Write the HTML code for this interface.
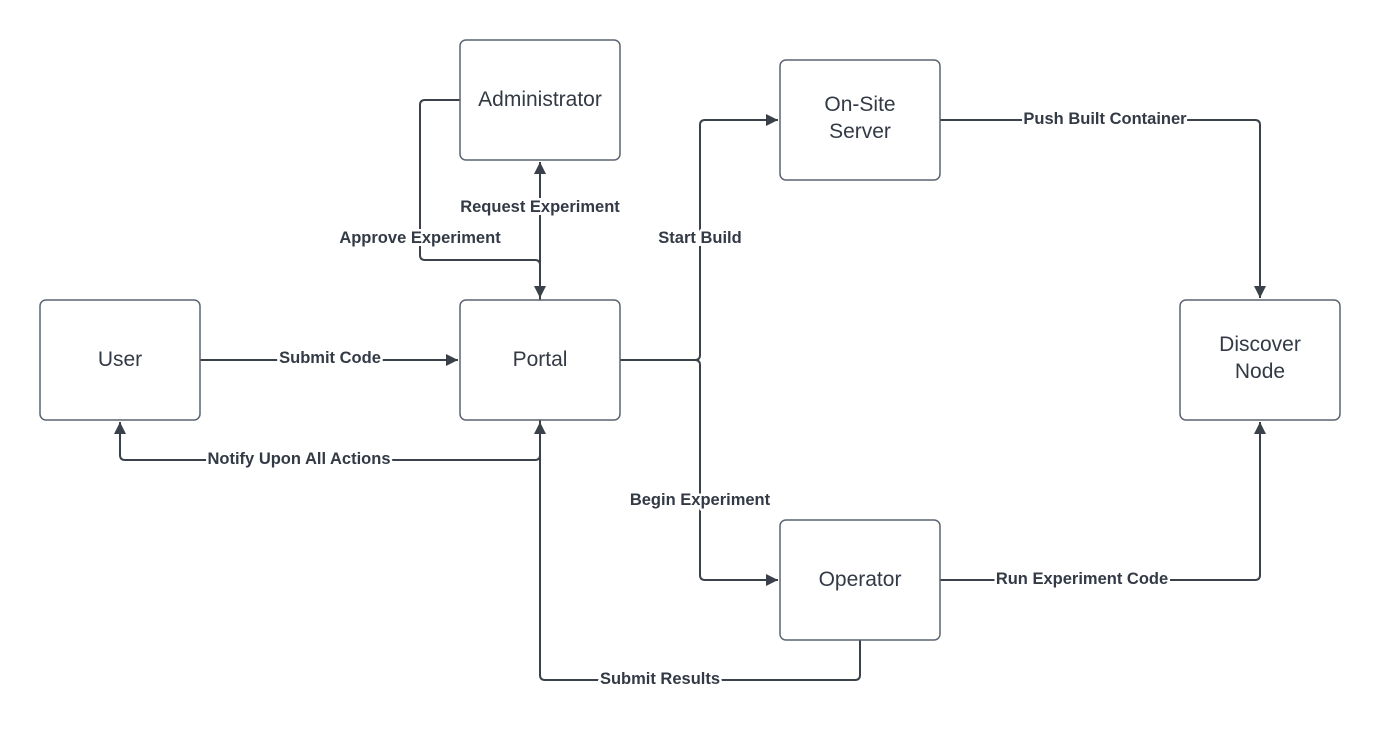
<!DOCTYPE html>
<html><head><style>body{margin:0;background:#fff}svg{display:block}</style></head><body>
<svg width="1380" height="731" xmlns="http://www.w3.org/2000/svg" font-family="Liberation Sans, sans-serif">
<defs><marker id="a" markerWidth="12" markerHeight="12" refX="12" refY="6" orient="auto" markerUnits="userSpaceOnUse"><path d="M0,0 L12,6 L0,12 z" fill="#3a414a"/></marker></defs>
<g fill="none" stroke="#3a414a" stroke-width="2">
<path d="M200,360 H458" marker-end="url(#a)"/>
<path d="M540,300 V162" marker-end="url(#a)"/>
<path d="M540,230 V298" marker-end="url(#a)"/>
<path d="M460,100 H425 Q420,100 420,105 V255 Q420,260 425,260 H535 Q540,260 540,265"/>
<path d="M620,360 H695 Q700,360 700,355 V125 Q700,120 705,120 H778" marker-end="url(#a)"/>
<path d="M695,360 Q700,360 700,365 V575 Q700,580 705,580 H778" marker-end="url(#a)"/>
<path d="M940,120 H1255 Q1260,120 1260,125 V298" marker-end="url(#a)"/>
<path d="M940,580 H1255 Q1260,580 1260,575 V422" marker-end="url(#a)"/>
<path d="M860,640 V675 Q860,680 855,680 H545 Q540,680 540,675 V422" marker-end="url(#a)"/>
<path d="M540,420 V455 Q540,460 535,460 H125 Q120,460 120,455 V422" marker-end="url(#a)"/>
</g>
<g fill="#fff" stroke="#5c6370" stroke-width="1.5">
<rect x="460" y="40" width="160" height="120" rx="6"/>
<rect x="780" y="60" width="160" height="120" rx="6"/>
<rect x="40" y="300" width="160" height="120" rx="6"/>
<rect x="460" y="300" width="160" height="120" rx="6"/>
<rect x="1180" y="300" width="160" height="120" rx="6"/>
<rect x="780" y="520" width="160" height="120" rx="6"/>
</g>
<g font-size="21" fill="#333a45" text-anchor="middle">
<text x="540" y="106">Administrator</text>
<text x="860" y="111">On-Site</text><text x="860" y="138">Server</text>
<text x="120" y="366">User</text>
<text x="540" y="366">Portal</text>
<text x="1260" y="351">Discover</text><text x="1260" y="378">Node</text>
<text x="860" y="586">Operator</text>
</g>
<g fill="#fff">
<rect x="278" y="352" width="104" height="14"/>
<rect x="460" y="201" width="160" height="14"/>
<rect x="340" y="232" width="160" height="14"/>
<rect x="658" y="232" width="84" height="14"/>
<rect x="1023" y="113" width="164" height="14"/>
<rect x="207" y="453" width="184" height="14"/>
<rect x="630" y="494" width="140" height="14"/>
<rect x="996" y="573" width="173" height="14"/>
<rect x="600" y="673" width="121" height="14"/>
</g>
<g font-size="16.5" font-weight="bold" fill="#333a45" text-anchor="middle" stroke="#fff" stroke-width="5" paint-order="stroke" stroke-linejoin="round">
<text x="330" y="363">Submit Code</text>
<text x="540" y="212">Request Experiment</text>
<text x="420" y="243">Approve Experiment</text>
<text x="700" y="243">Start Build</text>
<text x="1105" y="124">Push Built Container</text>
<text x="299" y="464">Notify Upon All Actions</text>
<text x="700" y="505">Begin Experiment</text>
<text x="1082" y="584">Run Experiment Code</text>
<text x="660" y="684">Submit Results</text>
</g>
</svg>
</body></html>
